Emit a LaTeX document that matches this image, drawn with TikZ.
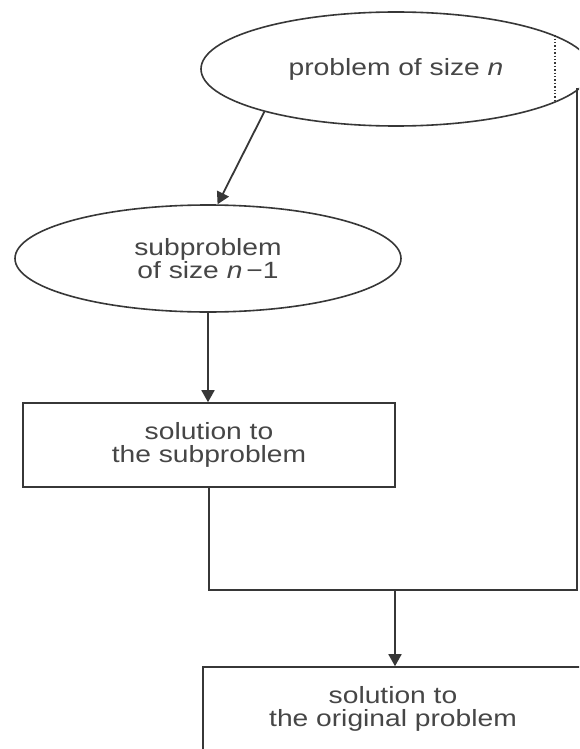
\documentclass[tikz,border=0pt]{standalone}
\usepackage{fontspec}
\setmainfont[FakeStretch=1.2]{Liberation Sans}
\usetikzlibrary{shapes.geometric,arrows.meta}
\definecolor{inkline}{RGB}{55,55,55}
\definecolor{inktext}{RGB}{70,70,70}
\begin{document}
\begin{tikzpicture}[x=1pt,y=-1pt,
  every node/.style={text=inktext, font=\fontsize{23.5}{22.5}\selectfont,
    align=center, inner sep=0pt},
  oval/.style={ellipse, draw=inkline, line width=1.6pt, fill=white},
  panel/.style={rectangle, draw=inkline, line width=1.6pt, fill=white},
  link/.style={draw=inkline, line width=1.8pt, line join=miter},
  flow/.style={link, -{Triangle[width=13pt,length=12pt]}}]
% page frame
\clip (0,0) rectangle (579,749);
\fill[white] (0,0) rectangle (579,749);

% shapes
\node[oval, minimum width=390pt, minimum height=114pt] (top) at (396,69)
  {problem of size \textit{n}};
\node[oval, minimum width=386pt, minimum height=107pt] (sub) at (208,258.5)
  {subproblem\\of size \textit{n}\,−1};
\node[panel, minimum width=372pt, minimum height=84pt] (sbox) at (209,445)
  {solution to\\the subproblem};
\node[panel, minimum width=380pt, minimum height=84pt] (obox) at (393,709)
  {solution to\\the original problem};

% dotted chord inside the top ellipse
\draw[inkline, line width=1.4pt, dash pattern=on 1.4pt off 2pt] (top.12.7) -- (top.-12.7);

% connectors
\coordinate (rc) at (577,590);
\coordinate (mid) at (395,590);
\draw[flow] (top.198) -- (sub.80);
\draw[flow] (sub.south) -- (sub.south |- sbox.north);
\draw[link] (sbox.south) -- (sbox.south |- rc) -- (rc) -- (rc |- top.-6.7);
\draw[flow] (mid) -- (mid |- obox.north);
\end{tikzpicture}
\end{document}
